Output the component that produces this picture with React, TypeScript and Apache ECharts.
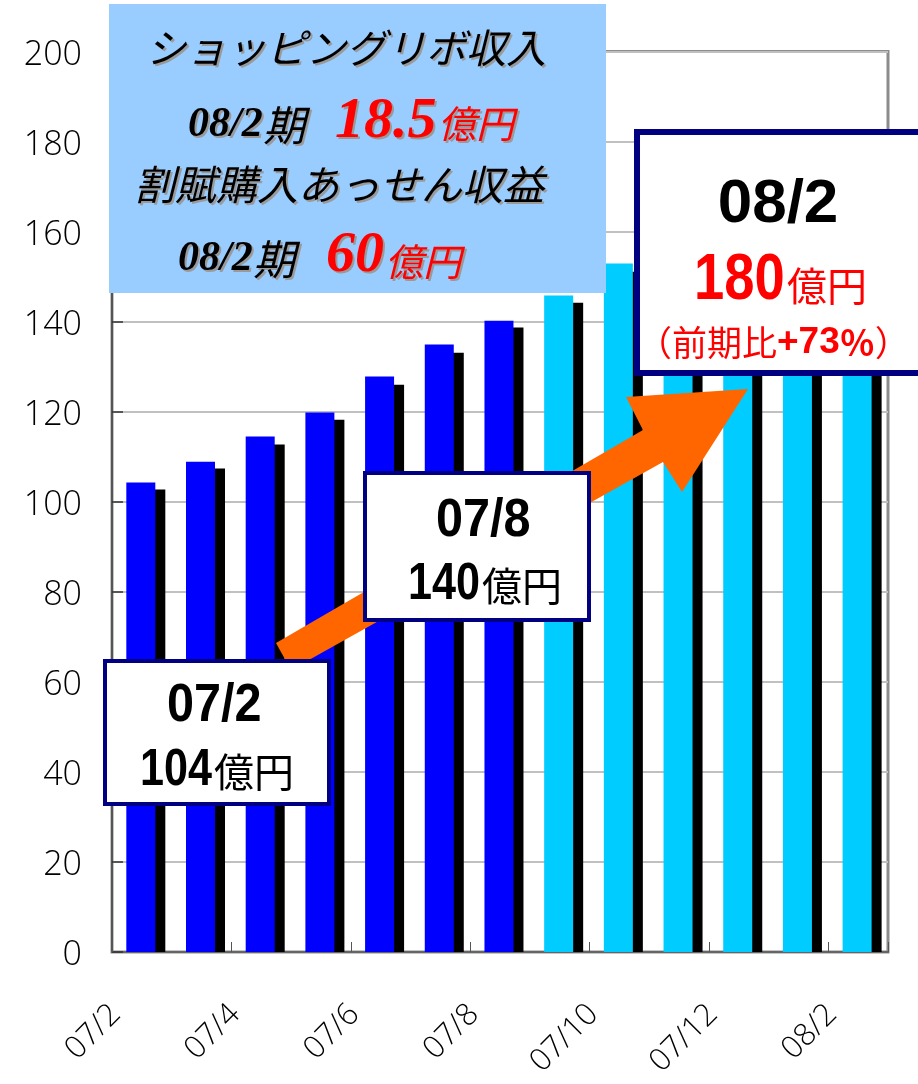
import React, { useEffect, useRef } from "react";
import * as echarts from "echarts";

const months = ["07/2", "07/3", "07/4", "07/5", "07/6", "07/7", "07/8", "07/9", "07/10", "07/11", "07/12", "08/1", "08/2"];
const revenue = [104.3, 108.9, 114.5, 119.8, 127.8, 134.9, 140.2, 145.8, 152.9, 158.5, 164.5, 172.0, 180.0];
const shadowValues = [102.7, 107.4, 112.7, 118.2, 126.0, 133.1, 138.7, 144.2, 151.1, 156.8, 162.8, 170.3, 178.3];
const firstHalfCount = 7;
const yTicks = { min: 0, max: 200, interval: 20 };

const JP = '"Noto Sans CJK JP", "Noto Sans", sans-serif';
const SERIF = '"Liberation Serif", "DejaVu Serif", serif';
const SANS = '"Liberation Sans", Arial, sans-serif';

function txt(x: number, y: number, text: string, o: any = {}) {
  const align = o.align || "left";
  return {
    type: "text",
    x,
    y,
    z: o.z || 70,
    scaleX: o.scaleX || 1,
    style: {
      text,
      fill: o.fill || "#000",
      fontSize: o.fontSize || 32,
      fontFamily: o.fontFamily || JP,
      fontWeight: o.fontWeight || "normal",
      fontStyle: o.fontStyle || "normal",
      align,
      textAlign: align,
      verticalAlign: "middle",
      textVerticalAlign: "middle",
      rich: o.rich,
    },
  };
}

function shadowed(x: number, y: number, text: string, o: any = {}) {
  return [
    txt(x + 2, y + 2, text, { ...o, fill: "#9a9a9a", z: 68 }),
    txt(x, y, text, o),
  ];
}

export default function App() {
  const ref = useRef<HTMLDivElement>(null);
  useEffect(() => {
    if (!ref.current) return;
    const chart = echarts.init(ref.current, null, { renderer: "svg" });
    const blueData = revenue.map((v, i) => ({
      value: v,
      itemStyle: { color: i < firstHalfCount ? "#0000FF" : "#00CCFF" },
    }));
    const italicBlack = { fontStyle: "italic", fontSize: 40 };
    const graphic: any[] = [
      // top-left info box
      { type: "rect", z: 60, shape: { x: 109, y: 4, width: 497, height: 289 }, style: { fill: "#99CCFF" } },
      ...shadowed(346, 46, "ショッピングリボ収入", { ...italicBlack, align: "center" }),
      ...shadowed(188, 122, "08/2", { fontFamily: SERIF, fontWeight: "bold", fontStyle: "italic", fontSize: 42 }),
      ...shadowed(263, 122, "期", { fontStyle: "italic", fontSize: 42 }),
      ...shadowed(335, 117, "18.5", { fontFamily: SERIF, fontWeight: "bold", fontStyle: "italic", fontSize: 58, fill: "#FF0000" }),
      ...shadowed(438, 121, "億円", { fontStyle: "italic", fontSize: 38, fill: "#FF0000" }),
      ...shadowed(339, 182, "割賦購入あっせん収益", { ...italicBlack, fontSize: 41, align: "center" }),
      ...shadowed(178, 256, "08/2", { fontFamily: SERIF, fontWeight: "bold", fontStyle: "italic", fontSize: 42 }),
      ...shadowed(253, 256, "期", { fontStyle: "italic", fontSize: 42 }),
      ...shadowed(326, 251, "60", { fontFamily: SERIF, fontWeight: "bold", fontStyle: "italic", fontSize: 58, fill: "#FF0000" }),
      ...shadowed(385, 259, "億円", { fontStyle: "italic", fontSize: 38, fill: "#FF0000" }),
      // arrow
      {
        type: "polygon",
        z: 50,
        shape: { points: [[276, 643], [643, 430], [626, 397], [748, 389], [682, 492], [663, 462], [291, 670]] },
        style: { fill: "#FF6600" },
      },
      // 07/2 box
      { type: "rect", z: 60, shape: { x: 105, y: 661, width: 224, height: 143 }, style: { fill: "#fff", stroke: "#000080", lineWidth: 4 } },
      txt(167, 702, "07/2", { fontFamily: SANS, fontWeight: "bold", fontSize: 54, scaleX: 0.9 }),
      txt(140, 767, "104", { fontFamily: SANS, fontWeight: "bold", fontSize: 52, scaleX: 0.83 }),
      txt(214, 770, "億円", { fontSize: 40 }),
      // 07/8 box
      { type: "rect", z: 60, shape: { x: 365, y: 473, width: 224, height: 147 }, style: { fill: "#fff", stroke: "#000080", lineWidth: 4 } },
      txt(436, 517, "07/8", { fontFamily: SANS, fontWeight: "bold", fontSize: 54, scaleX: 0.9 }),
      txt(408, 581, "140", { fontFamily: SANS, fontWeight: "bold", fontSize: 52, scaleX: 0.83 }),
      txt(482, 584, "億円", { fontSize: 40 }),
      // 08/2 box
      { type: "rect", z: 60, shape: { x: 637, y: 132, width: 300, height: 241 }, style: { fill: "#fff", stroke: "#000080", lineWidth: 6 } },
      txt(778, 200, "08/2", { fontFamily: SANS, fontWeight: "bold", fontSize: 62, align: "center" }),
      txt(694, 277, "180", { fontFamily: SANS, fontWeight: "bold", fontSize: 64, scaleX: 0.85, fill: "#FF0000" }),
      txt(787, 284, "億円", { fontSize: 40, fill: "#FF0000" }),
      txt(637, 340, "{a|（前期比}{b|+73}{c|％}{a|）}", {
        fill: "#FF0000",
        rich: {
          a: { fontFamily: JP, fontSize: 35, fill: "#FF0000", color: "#FF0000" },
          b: { fontFamily: SANS, fontWeight: "bold", fontSize: 37, fill: "#FF0000", color: "#FF0000" },
          c: { fontFamily: JP, fontWeight: "bold", fontSize: 35, fill: "#FF0000", color: "#FF0000" },
        },
      }),
    ];

    chart.setOption({
      animation: false,
      grid: {
        left: 112,
        right: 30,
        top: 51.5,
        bottom: 132,
        show: true,
        borderColor: "#8c8c8c",
        borderWidth: 3,
        backgroundColor: "transparent",
      },
      xAxis: {
        type: "category",
        data: months,
        axisLine: { lineStyle: { color: "#666", width: 2 } },
        axisTick: { show: true, inside: true, length: 10, interval: 1, lineStyle: { color: "#555", width: 1 } },
        axisLabel: {
          interval: 1,
          rotate: 45,
          fontSize: 31,
          fontFamily: '"Open Sans", sans-serif',
          fontWeight: 300,
          color: "#000",
          margin: 27,
          padding: [0, 40, 0, 0],
        },
      },
      yAxis: {
        type: "value",
        min: yTicks.min,
        max: yTicks.max,
        interval: yTicks.interval,
        axisLine: { show: true, lineStyle: { color: "#555", width: 2 } },
        axisTick: { show: true, inside: true, length: 11, lineStyle: { color: "#333", width: 1.5 } },
        splitLine: { lineStyle: { color: "#c0c0c0", width: 2 } },
        axisLabel: {
          fontSize: 34,
          fontFamily: '"Open Sans", sans-serif',
          fontWeight: 300,
          color: "#000",
          margin: 30,
        },
      },
      series: [
        { type: "bar", name: "spacer", data: revenue, barWidth: 23, barGap: "-65.5%", silent: true, itemStyle: { color: "rgba(0,0,0,0)" }, z: 1 },
        { type: "bar", name: "収入", data: blueData, barWidth: 29, barGap: "-65.5%", z: 3 },
        { type: "bar", name: "影", data: shadowValues, barWidth: 29, barGap: "-65.5%", itemStyle: { color: "#000" }, z: 2 },
      ],
      graphic,
    });
    return () => chart.dispose();
  }, []);
  return <div ref={ref} style={{ position: "fixed", left: 0, top: 0, width: 918, height: 1084 }} />;
}
